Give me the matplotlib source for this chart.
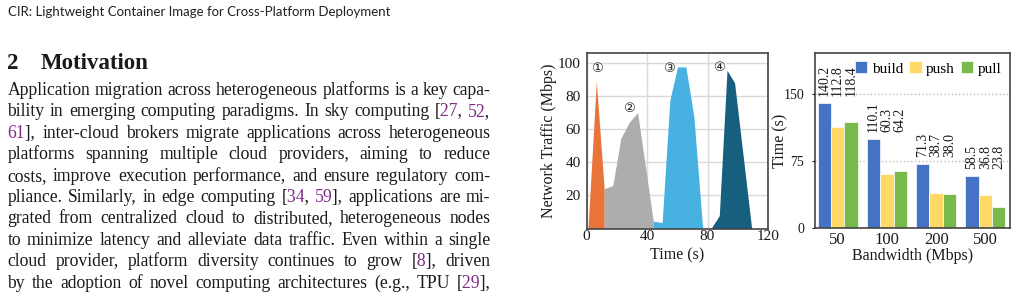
import re
import matplotlib
matplotlib.use("Agg")
import matplotlib.pyplot as plt
from matplotlib.transforms import Bbox
import numpy as np

# ---- page text ----
header = "CIR: Lightweight Container Image for Cross-Platform Deployment"
section_no = "2"
section_title = "Motivation"
# {..} marks a citation number (drawn in purple)
body_lines = [
    "Application migration across heterogeneous platforms is a key capa-",
    "bility in emerging computing paradigms. In sky computing [{27}, {52},",
    "{61}], inter-cloud brokers migrate applications across heterogeneous",
    "platforms spanning multiple cloud providers, aiming to reduce",
    "costs, improve execution performance, and ensure regulatory com-",
    "pliance. Similarly, in edge computing [{34}, {59}], applications are mi-",
    "grated from centralized cloud to distributed, heterogeneous nodes",
    "to minimize latency and alleviate data traffic. Even within a single",
    "cloud provider, platform diversity continues to grow [{8}], driven",
    "by the adoption of novel computing architectures (e.g., TPU [{29}],",
]

# ---- left chart: network traffic per phase ----
phase_t = [
    [1.0, 6.5, 11.7],
    [11.7, 17.4, 22.7, 28.5, 33.8, 44.3],
    [44.3, 50.0, 55.1, 60.2, 65.7, 71.0, 76.8],
    [82.3, 87.8, 92.9, 97.9, 109.2],
]
phase_v = [
    [0, 89, 24],
    [24, 26, 54.5, 64.5, 70, 3.4],
    [4.4, 3.6, 77.5, 97.6, 97.6, 67.5, 0],
    [0, 7.8, 95.6, 88, 0],
]
phase_marks = ["\u2460", "\u2461", "\u2462", "\u2463"]
mark_t = [6.6, 27.8, 54.7, 87.8]
mark_v = [96.5, 72.5, 96.5, 97]
phase_colors = ["#E8743A", "#ADADAD", "#47B1E1", "#175F7E"]

# ---- right chart: time per stage vs bandwidth ----
bandwidth = ["50", "100", "200", "500"]
build = [140.2, 100.0, 71.3, 58.5]
push = [112.8, 60.3, 38.7, 36.8]
pull = [118.4, 64.2, 38.0, 23.8]
build_labels = ["140.2", "110.1", "71.3", "58.5"]
push_labels = ["112.8", "60.3", "38.7", "36.8"]
pull_labels = ["118.4", "64.2", "38.0", "23.8"]
stage_names = ["build", "push", "pull"]
stage_colors = ["#4472C4", "#FFD966", "#77B94A"]

INK = "#1a1a1a"
CITE = "#7E2B82"
W, H = 1017, 300

plt.rcParams["font.family"] = ["Liberation Serif", "DejaVu Serif"]
fig = plt.figure(figsize=(W / 100, H / 100), dpi=100)
renderer = fig.canvas.get_renderer()


def put(x, y, s, **kw):
    return fig.text(x / W, 1 - y / H, s, va="baseline", **kw)


def text_width(s, size, **kw):
    t = fig.text(0, 0, s, fontsize=size, **kw)
    w = t.get_window_extent(renderer).width
    t.remove()
    return w


def advance(s, size):
    # width of s as it would sit inside a longer run of text
    if not s:
        return 0.0
    return text_width(s + "|", size) - text_width("|", size)


def fit_size(s, target, **kw):
    return 10 * target / text_width(s, 10, **kw)


def split_word(word):
    segs = []
    for p in re.split(r"(\{[^}]*\})", word):
        if not p:
            continue
        if p.startswith("{"):
            segs.append((p[1:-1], CITE))
        else:
            segs.append((p, INK))
    return segs


def draw_word(x, y, segs, size):
    word = "".join(s for s, c in segs)
    if len(segs) == 1:
        put(x, y, word, fontsize=size, color=segs[0][1])
        return
    # whole word drawn once per colour, clipped to that part's span
    edges = [x - 20]
    prefix = ""
    for s, c in segs[:-1]:
        prefix += s
        edges.append(x + advance(prefix, size))
    edges.append(x + 200)
    for (s, c), a, b in zip(segs, edges[:-1], edges[1:]):
        t = put(x, y, word, fontsize=size, color=c)
        t.set_clip_box(Bbox([[a, 0], [b, H]]))
        t.set_clip_on(True)


def draw_justified(line, x0, x1, y, size):
    words = [split_word(w) for w in line.split(" ")]
    plain = ["".join(s for s, c in w) for w in words]
    widths = [text_width(p, size) for p in plain]
    gap = (x1 - x0 - sum(widths)) / (len(words) - 1)
    x = x0
    for segs, w in zip(words, widths):
        draw_word(x, y, segs, size)
        x += w + gap


# header (sans)
hsize = fit_size(header, 382, family="Lato")
put(7.5, 16.5, header, fontsize=hsize, family="Lato", color="#222222")

# section heading
tsize = fit_size(section_title, 108, weight="bold")
put(7.5, 69, section_no, fontsize=tsize, weight="bold", color=INK)
put(40.7, 69, section_title, fontsize=tsize, weight="bold", color=INK)

# body text, justified; size set so the longest line keeps normal spacing
plain_lines = [l.replace("{", "").replace("}", "") for l in body_lines]
max_w = max(text_width(l, 10) for l in plain_lines)
bsize = 10 * 484 / max_w
for i, line in enumerate(body_lines):
    draw_justified(line, 7.5, 490.5, 95 + 21.4 * i, bsize)

# ---- left chart ----
ax1 = fig.add_axes([586.5 / W, 1 - 228.5 / H, 181.5 / W, 175.5 / H])
for t, v, c in zip(phase_t, phase_v, phase_colors):
    ax1.fill_between(t, v, 0, color=c, linewidth=0, zorder=2)
for m, t, v in zip(phase_marks, mark_t, mark_v):
    ax1.text(t, v, m, ha="center", va="center", fontsize=9.5,
             family=["DejaVu Sans"], color="#222222", zorder=3)
ax1.set_xlim(0, 120)
ax1.set_ylim(0, 106)
ax1.set_xticks([0, 40, 80, 120])
ax1.set_yticks([20, 40, 60, 80, 100])
ax1.grid(True, color="#d9d9d9", linewidth=1, zorder=0)
ax1.set_axisbelow(True)
ax1.tick_params(length=0, labelsize=11, colors=INK)
ax1.tick_params(axis="x", pad=1)
ax1.tick_params(axis="y", pad=4)
ax1.set_xlabel("Time (s)", fontsize=11.5, labelpad=3, color=INK)
ax1.set_ylabel("Network Traffic (Mbps)", fontsize=11.5, labelpad=1, color=INK)
for sp in ax1.spines.values():
    sp.set_color("#444444")
    sp.set_linewidth(1.2)

# ---- right chart ----
ax2 = fig.add_axes([814.5 / W, 1 - 228 / H, 195.5 / W, 175 / H])
x = np.arange(len(bandwidth))
bw = 0.27
series = [build, push, pull]
labels = [build_labels, push_labels, pull_labels]
for k, (vals, name, c) in enumerate(zip(series, stage_names, stage_colors)):
    ax2.bar(x + (k - 1) * bw, vals, bw, color=c, edgecolor="white",
            linewidth=0.5, label=name, zorder=2)
for g in range(len(bandwidth)):
    top = max(s[g] for s in series)
    for k in range(3):
        ax2.annotate(labels[k][g], (x[g] + (k - 1) * bw, top),
                     xytext=(0, 5), textcoords="offset points",
                     rotation=90, ha="center", va="bottom",
                     fontsize=10, color=INK)
ax2.set_xlim(-0.47, 3.5)
ax2.set_ylim(0, 196)
ax2.set_xticks(x)
ax2.set_xticklabels(bandwidth)
ax2.set_yticks([0, 75, 150])
ax2.yaxis.grid(True, linestyle=":", color="#bbbbbb", linewidth=1, zorder=0)
ax2.set_axisbelow(True)
ax2.tick_params(axis="x", length=0, pad=3, labelsize=12, colors=INK)
ax2.tick_params(axis="y", length=2.5, width=0.8, pad=5, labelsize=10,
                colors=INK)
ax2.set_xlabel("Bandwidth (Mbps)", fontsize=11.5, labelpad=0, color=INK)
ax2.set_ylabel("Time (s)", fontsize=11.5, color=INK)
ax2.yaxis.set_label_coords(-0.132, 0.5)
for sp in ax2.spines.values():
    sp.set_color("#444444")
    sp.set_linewidth(1.2)
ax2.legend(loc="upper right", ncol=3, frameon=False, fontsize=11,
           handlelength=0.8, handleheight=0.8, handletextpad=0.3,
           columnspacing=0.4, borderaxespad=0.35, borderpad=0.2)

fig.savefig("out.png", dpi=100)
